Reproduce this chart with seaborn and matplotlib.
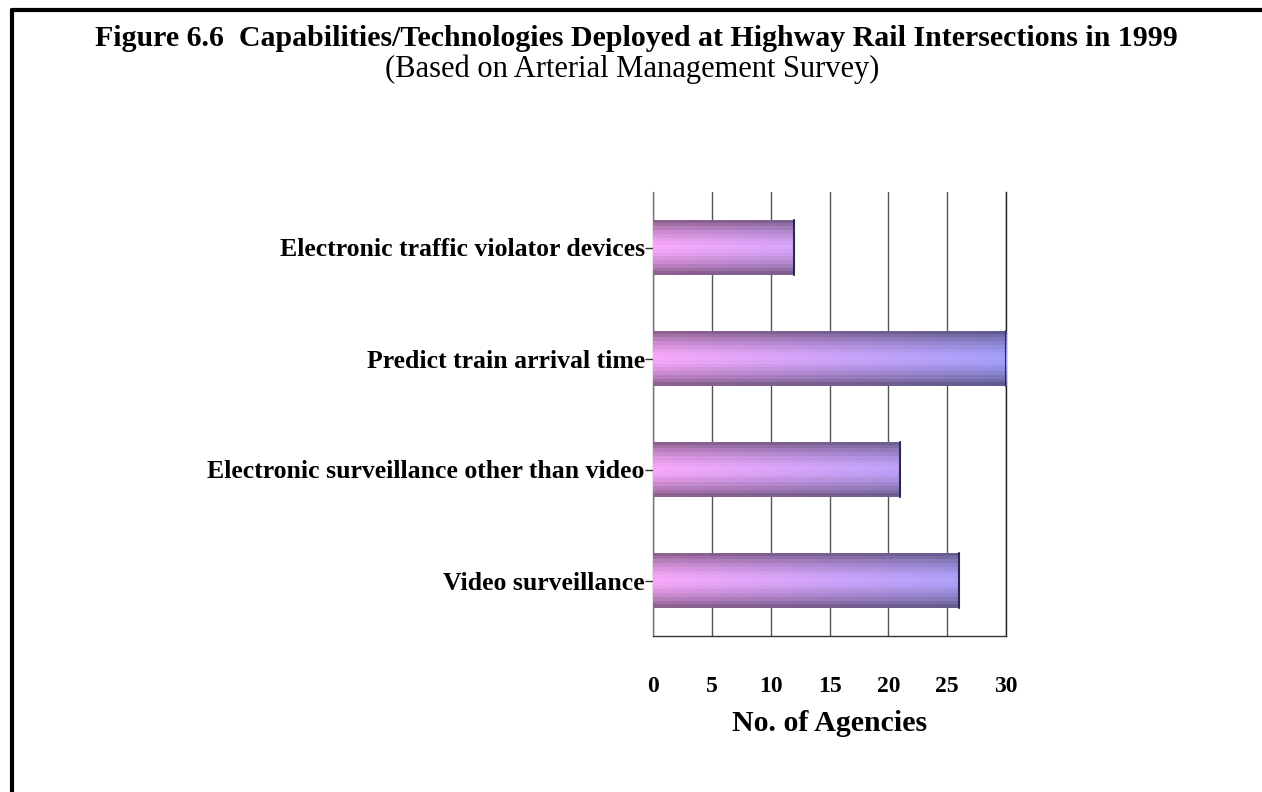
import numpy as np
import pandas as pd
import matplotlib
matplotlib.use("Agg")
import matplotlib.pyplot as plt
from matplotlib.lines import Line2D
import seaborn as sns

## values
categories = ["Electronic traffic violator devices",
              "Predict train arrival time",
              "Electronic surveillance other than video",
              "Video surveillance"]
agencies = [12, 30, 21, 26]
xticks = [0, 5, 10, 15, 20, 25, 30]

title = "Figure 6.6  Capabilities/Technologies Deployed at Highway Rail Intersections in 1999"
subtitle = "(Based on Arterial Management Survey)"
xlabel = "No. of Agencies"

sns.set_style("white")
plt.rcParams['font.family'] = ['Liberation Serif', 'DejaVu Serif']
plt.rcParams['text.color'] = 'black'
plt.rcParams['axes.labelcolor'] = 'black'
plt.rcParams['xtick.color'] = 'black'
plt.rcParams['ytick.color'] = 'black'

W, H = 1262, 792
fig = plt.figure(figsize=(W/100, H/100), dpi=100)
ax = fig.add_axes([653/W, 1-636/H, (1006-653)/W, (636-192)/H])

df = pd.DataFrame({"cat": categories, "n": agencies})
sns.barplot(data=df, x="n", y="cat", orient="h", width=0.5, ax=ax,
            color="#c0a0f0", edgecolor="none", zorder=3)

## gradient fill, striped like the old office chart
pink = np.array([248, 168, 250]) / 255.
blue = np.array([164, 160, 250]) / 255.
nx, ny = 200, 15
t = np.linspace(0, 1, nx)
v = np.linspace(-1, 1, ny)
shade = 1 - 0.42*np.abs(v)**1.6
for p in ax.patches:
    x0, y0 = p.get_x(), p.get_y()
    w, h = p.get_width(), p.get_height()
    frac = w / 30.
    tt = t * frac
    row = pink[None, :]*(1-tt[:, None]) + blue[None, :]*tt[:, None]
    img = shade[:, None, None] * row[None, :, :]
    im = ax.imshow(img, extent=[x0, x0+w, y0+h, y0], aspect="auto",
                   interpolation="nearest", zorder=3)
    im.set_clip_path(p)
    p.set_facecolor("none")
    ax.plot([x0+w, x0+w], [y0, y0+h], color="#2a2a50", lw=1.5, zorder=4)

ax.set_xlim(0, 30)
ax.set_ylim(3.5, -0.5)
ax.set_xticks(xticks)
ax.set_xticklabels([str(x) for x in xticks], fontsize=17, fontweight="bold")
ax.tick_params(axis="x", direction="out", length=11.5, width=1, color="#333333", pad=17)
ax.tick_params(axis="y", direction="out", length=6, width=1, color="#333333", pad=0, left=True)
for lab in ax.get_yticklabels():
    lab.set_fontsize(18.5)
    lab.set_fontweight("bold")
ax.set_xlabel(xlabel, fontsize=21.5, fontweight="bold", labelpad=10)
ax.set_ylabel("")
ax.xaxis.grid(True, color="#555555", lw=1, zorder=0)
ax.yaxis.grid(False)
ax.spines["top"].set_visible(False)
ax.spines["right"].set_color("#222222")
ax.spines["left"].set_color("#777777")
ax.spines["bottom"].set_color("#333333")
for s in ["left", "right", "bottom"]:
    ax.spines[s].set_linewidth(1)

fig.text(636/W, 1-46/H, title, ha="center", va="baseline", fontsize=21.5, fontweight="bold")
fig.text(632/W, 1-77/H, subtitle, ha="center", va="baseline", fontsize=22)

## frame of the page, cut at right and bottom
fig.add_artist(Line2D([12/W, 12/W], [0, 1-10/H], color="black", lw=3, transform=fig.transFigure))
fig.add_artist(Line2D([12/W, 1], [1-10/H, 1-10/H], color="black", lw=3, transform=fig.transFigure))

fig.savefig("out.png", dpi=100)
